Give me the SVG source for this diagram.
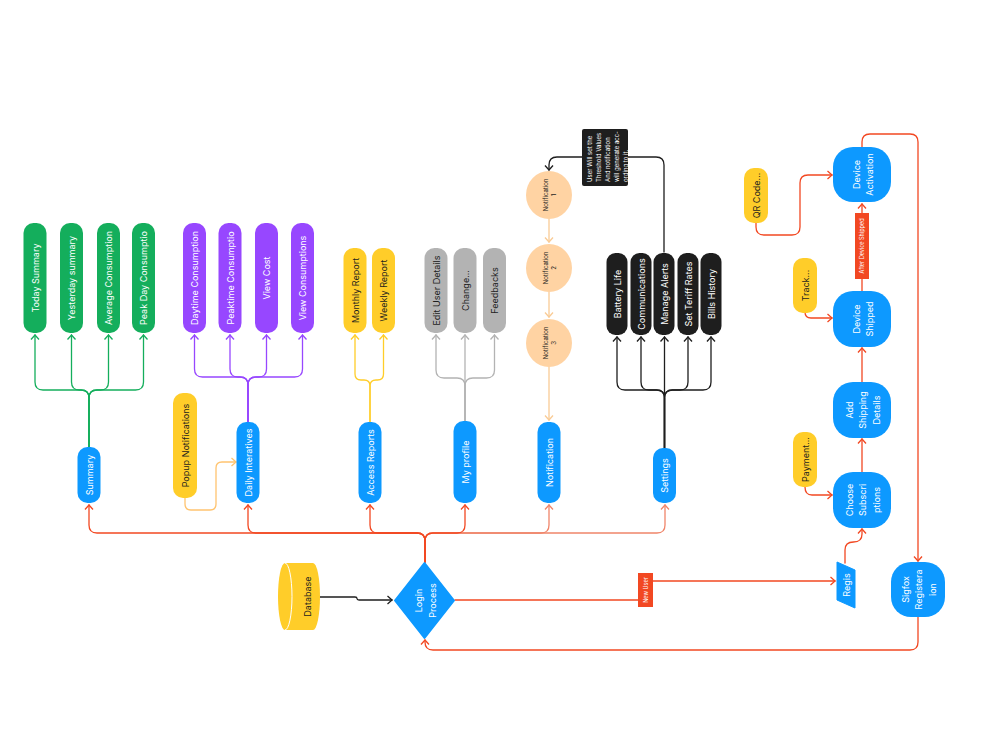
<svg xmlns="http://www.w3.org/2000/svg" width="1000" height="750" viewBox="0 0 1000 750">
<style>
.t{font-family:Inter,"Liberation Sans",sans-serif;font-size:9px;}
.w{fill:#ffffff}.k{fill:#1e1e1e}
.s{font-size:6px}.xs{font-size:5.5px}.nt{font-size:6px}
.c{fill:none;stroke-width:1.3;stroke-linecap:round;stroke-linejoin:round}
.gr{stroke:#14ae5c}.pu{stroke:#9747ff}.ye{stroke:#ffcd29}.ga{stroke:#b3b3b3}.bl{stroke:#1e1e1e}
.re{stroke:#f24822}.rl{stroke:#f0856a}.po{stroke:#f9cb95}.or{stroke:#ffc470}
.green{fill:#14ae5c}.purple{fill:#9747ff}.yellow{fill:#ffcd29}.gray{fill:#b3b3b3}.black{fill:#1e1e1e}.blue{fill:#0d99ff}.peach{fill:#ffd3a3}.red{fill:#f24822}
</style>
<defs>
<marker id="mg" viewBox="-6 -6 12 12" markerWidth="12" markerHeight="12" markerUnits="userSpaceOnUse" orient="auto" overflow="visible"><path d="M-4.5,-4 L0,0 L-4.5,4" fill="none" stroke="#14ae5c" stroke-width="1.3"/></marker>
<marker id="mp" viewBox="-6 -6 12 12" markerWidth="12" markerHeight="12" markerUnits="userSpaceOnUse" orient="auto" overflow="visible"><path d="M-4.5,-4 L0,0 L-4.5,4" fill="none" stroke="#9747ff" stroke-width="1.3"/></marker>
<marker id="my" viewBox="-6 -6 12 12" markerWidth="12" markerHeight="12" markerUnits="userSpaceOnUse" orient="auto" overflow="visible"><path d="M-4.5,-4 L0,0 L-4.5,4" fill="none" stroke="#ffcd29" stroke-width="1.3"/></marker>
<marker id="ma" viewBox="-6 -6 12 12" markerWidth="12" markerHeight="12" markerUnits="userSpaceOnUse" orient="auto" overflow="visible"><path d="M-4.5,-4 L0,0 L-4.5,4" fill="none" stroke="#b3b3b3" stroke-width="1.3"/></marker>
<marker id="mb" viewBox="-6 -6 12 12" markerWidth="12" markerHeight="12" markerUnits="userSpaceOnUse" orient="auto" overflow="visible"><path d="M-4.5,-4 L0,0 L-4.5,4" fill="none" stroke="#1e1e1e" stroke-width="1.3"/></marker>
<marker id="mr" viewBox="-6 -6 12 12" markerWidth="12" markerHeight="12" markerUnits="userSpaceOnUse" orient="auto" overflow="visible"><path d="M-4.5,-4 L0,0 L-4.5,4" fill="none" stroke="#f24822" stroke-width="1.3"/></marker>
<marker id="ml" viewBox="-6 -6 12 12" markerWidth="12" markerHeight="12" markerUnits="userSpaceOnUse" orient="auto" overflow="visible"><path d="M-4.5,-4 L0,0 L-4.5,4" fill="none" stroke="#f0856a" stroke-width="1.3"/></marker>
<marker id="mo" viewBox="-6 -6 12 12" markerWidth="12" markerHeight="12" markerUnits="userSpaceOnUse" orient="auto" overflow="visible"><path d="M-4.5,-4 L0,0 L-4.5,4" fill="none" stroke="#f9cb95" stroke-width="1.3"/></marker>
<marker id="mq" viewBox="-6 -6 12 12" markerWidth="12" markerHeight="12" markerUnits="userSpaceOnUse" orient="auto" overflow="visible"><path d="M-4.5,-4 L0,0 L-4.5,4" fill="none" stroke="#ffc470" stroke-width="1.3"/></marker>
</defs>
<rect width="1000" height="750" fill="#ffffff"/>

<g id="connectors">
<path class="c gr" marker-end="url(#mg)" d="M 89 447 V 398 Q 89 390 81 390 H 43 Q 35 390 35 382 V 335"/>
<path class="c gr" marker-end="url(#mg)" d="M 89 447 V 398 Q 89 390 81 390 H 79.5 Q 71.5 390 71.5 382 V 335"/>
<path class="c gr" marker-end="url(#mg)" d="M 89 447 V 398 Q 89 390 97 390 H 100.5 Q 108.5 390 108.5 382 V 335"/>
<path class="c gr" marker-end="url(#mg)" d="M 89 447 V 398 Q 89 390 97 390 H 135.5 Q 143.5 390 143.5 382 V 335"/>
<path class="c pu" marker-end="url(#mp)" d="M 248 422 V 385 Q 248 377 240 377 H 202.5 Q 194.5 377 194.5 369 V 335"/>
<path class="c pu" marker-end="url(#mp)" d="M 248 422 V 385 Q 248 377 240 377 H 238 Q 230 377 230 369 V 335"/>
<path class="c pu" marker-end="url(#mp)" d="M 248 422 V 385 Q 248 377 256 377 H 258.5 Q 266.5 377 266.5 369 V 335"/>
<path class="c pu" marker-end="url(#mp)" d="M 248 422 V 385 Q 248 377 256 377 H 294.5 Q 302.5 377 302.5 369 V 335"/>
<path class="c ye" marker-end="url(#my)" d="M 370 422 V 386 Q 370 380 364 380 H 361 Q 355 380 355 374 V 335"/>
<path class="c ye" marker-end="url(#my)" d="M 370 422 V 386 Q 370 380 376 380 H 377.5 Q 383.5 380 383.5 374 V 335"/>
<path class="c ga" marker-end="url(#ma)" d="M 465 421 V 386 Q 465 378 457 378 H 444 Q 436 378 436 370 V 335"/>
<path class="c ga" marker-end="url(#ma)" d="M 465 421 V 335"/>
<path class="c ga" marker-end="url(#ma)" d="M 465 421 V 386 Q 465 378 473 378 H 486.5 Q 494.5 378 494.5 370 V 335"/>
<path class="c bl" marker-end="url(#mb)" d="M 664.5 448 V 398 Q 664.5 390 656.5 390 H 625 Q 617 390 617 382 V 337"/>
<path class="c bl" marker-end="url(#mb)" d="M 664.5 448 V 398 Q 664.5 390 656.5 390 H 649 Q 641 390 641 382 V 337"/>
<path class="c bl" marker-end="url(#mb)" d="M 664.5 448 V 337"/>
<path class="c bl" marker-end="url(#mb)" d="M 664.5 448 V 398 Q 664.5 390 672.5 390 H 680 Q 688 390 688 382 V 337"/>
<path class="c bl" marker-end="url(#mb)" d="M 664.5 448 V 398 Q 664.5 390 672.5 390 H 703 Q 711 390 711 382 V 337"/>
<path class="c bl" marker-end="url(#mb)" d="M 664 252 V 165 Q 664 157 656 157 H 557 Q 549 157 549 165 V 170"/>
<path class="c po" marker-end="url(#mo)" d="M 549 219 V 242"/>
<path class="c po" marker-end="url(#mo)" d="M 549 292 V 317"/>
<path class="c po" marker-end="url(#mo)" d="M 549 367 V 420"/>
<path class="c or" marker-end="url(#mq)" d="M 185 498 V 504 Q 185 510 191 510 H 210 Q 216 510 216 504 V 468 Q 216 462 222 462 H 236"/>
<path class="c rl" marker-end="url(#ml)" d="M 425 562 V 541 Q 425 533 433 533 H 541 Q 549 533 549 525 V 505"/>
<path class="c rl" marker-end="url(#ml)" d="M 425 562 V 541 Q 425 533 433 533 H 657 Q 665 533 665 525 V 505"/>
<path class="c re" marker-end="url(#mr)" d="M 425 562 V 541 Q 425 533 433 533 H 457 Q 465 533 465 525 V 505"/>
<path class="c re" marker-end="url(#mr)" d="M 425 562 V 541 Q 425 533 417 533 H 97 Q 89 533 89 525 V 505"/>
<path class="c re" marker-end="url(#mr)" d="M 425 562 V 541 Q 425 533 417 533 H 256 Q 248 533 248 525 V 505"/>
<path class="c re" marker-end="url(#mr)" d="M 425 562 V 541 Q 425 533 417 533 H 378 Q 370 533 370 525 V 505"/>
<path class="c bl" marker-end="url(#mb)" d="M 320 597 H 355 Q 357 597 357 598.5 Q 357 600 359 600 H 392"/>
<path class="c re" marker-end="url(#mr)" d="M 455 600 H 645 V 581 H 835"/>
<path class="c re" marker-end="url(#mr)" d="M 845 563 V 550 Q 845 542 853.5 542 Q 862 542 862 534 V 529"/>
<path class="c re" marker-end="url(#mr)" d="M 862 472 V 439"/>
<path class="c re" marker-end="url(#mr)" d="M 862 382 V 348"/>
<path class="c re" marker-end="url(#mr)" d="M 862 291 V 204"/>
<path class="c re" marker-end="url(#mr)" d="M 756 223 V 227 Q 756 235 764 235 H 792 Q 800 235 800 227 V 183 Q 800 175 808 175 H 832"/>
<path class="c re" marker-end="url(#mr)" d="M 805 312 Q 805 318 811 318 H 832"/>
<path class="c re" marker-end="url(#mr)" d="M 805 487 Q 805 495 812 495 H 832"/>
<path class="c re" marker-end="url(#mr)" d="M 862 147 V 142 Q 862 134 870 134 H 910 Q 918 134 918 142 V 561"/>
<path class="c re" marker-end="url(#mr)" d="M 918 617 V 642 Q 918 650 910 650 H 433 Q 425 650 425 642 V 640"/>
</g>

<g id="today-summary"><rect class="green" x="23.5" y="223" width="23" height="110" rx="10"/><text class="t w" transform="translate(35,278) rotate(-90)" text-anchor="middle" dominant-baseline="central">Today Summary</text></g>
<g id="yesterday-summary"><rect class="green" x="60" y="223" width="23" height="110" rx="10"/><text class="t w" transform="translate(71.5,278) rotate(-90)" text-anchor="middle" dominant-baseline="central">Yesterday summary</text></g>
<g id="average-consumption"><rect class="green" x="97" y="223" width="23" height="110" rx="10"/><text class="t w" transform="translate(108.5,278) rotate(-90)" text-anchor="middle" dominant-baseline="central">Average Consumption</text></g>
<g id="peak-day"><rect class="green" x="132" y="223" width="23" height="110" rx="10"/><text class="t w" transform="translate(143.5,278) rotate(-90)" text-anchor="middle" dominant-baseline="central">Peak Day Consumptio</text></g>

<g id="daytime"><rect class="purple" x="183" y="223" width="23" height="110" rx="10"/><text class="t w" transform="translate(194.5,278) rotate(-90)" text-anchor="middle" dominant-baseline="central">Daytime Consumption</text></g>
<g id="peaktime"><rect class="purple" x="218.5" y="223" width="23" height="110" rx="10"/><text class="t w" transform="translate(230,278) rotate(-90)" text-anchor="middle" dominant-baseline="central">Peaktime Consumptio</text></g>
<g id="view-cost"><rect class="purple" x="255" y="223" width="23" height="110" rx="10"/><text class="t w" transform="translate(266.5,278) rotate(-90)" text-anchor="middle" dominant-baseline="central">View Cost</text></g>
<g id="view-consumptions"><rect class="purple" x="291" y="223" width="23" height="110" rx="10"/><text class="t w" transform="translate(302.5,278) rotate(-90)" text-anchor="middle" dominant-baseline="central">View Consumptions</text></g>

<g id="monthly-report"><rect class="yellow" x="343.5" y="248" width="23" height="85" rx="10"/><text class="t k" transform="translate(355,290.5) rotate(-90)" text-anchor="middle" dominant-baseline="central">Monthly Report</text></g>
<g id="weekly-report"><rect class="yellow" x="372" y="248" width="23" height="85" rx="10"/><text class="t k" transform="translate(383.5,290.5) rotate(-90)" text-anchor="middle" dominant-baseline="central">Weekly Report</text></g>

<g id="edit-user"><rect class="gray" x="424.5" y="248" width="23" height="85" rx="10"/><text class="t k" transform="translate(436,290.5) rotate(-90)" text-anchor="middle" dominant-baseline="central">Edit User Details</text></g>
<g id="change"><rect class="gray" x="453.5" y="248" width="23" height="85" rx="10"/><text class="t k" transform="translate(465,290.5) rotate(-90)" text-anchor="middle" dominant-baseline="central">Change...</text></g>
<g id="feedbacks"><rect class="gray" x="483" y="248" width="23" height="85" rx="10"/><text class="t k" transform="translate(494.5,290.5) rotate(-90)" text-anchor="middle" dominant-baseline="central">Feedbacks</text></g>

<g id="notification-1"><ellipse class="peach" cx="549" cy="195" rx="23" ry="24"/><text class="t k s" transform="translate(549,195) rotate(-90)" text-anchor="middle" dominant-baseline="central"><tspan x="0" y="-4">Notification</tspan><tspan x="0" y="4">1</tspan></text></g>
<g id="notification-2"><ellipse class="peach" cx="549" cy="268" rx="23" ry="24"/><text class="t k s" transform="translate(549,268) rotate(-90)" text-anchor="middle" dominant-baseline="central"><tspan x="0" y="-4">Notification</tspan><tspan x="0" y="4">2</tspan></text></g>
<g id="notification-3"><ellipse class="peach" cx="549" cy="343" rx="23" ry="24"/><text class="t k s" transform="translate(549,343) rotate(-90)" text-anchor="middle" dominant-baseline="central"><tspan x="0" y="-4">Notification</tspan><tspan x="0" y="4">3</tspan></text></g>

<g id="threshold-note"><rect class="black" x="582" y="129" width="46" height="57" rx="2"/><text class="t w nt" transform="translate(585,182) rotate(-90)" dominant-baseline="central"><tspan x="0" y="4">User Will set the</tspan><tspan x="0" y="13">Threshold Values</tspan><tspan x="0" y="22">And notification</tspan><tspan x="0" y="31">will generate acc-</tspan><tspan x="0" y="40">ording to it.</tspan></text></g>

<g id="battery-life"><rect class="black" x="606.5" y="253" width="21" height="82" rx="9"/><text class="t w" transform="translate(617,294) rotate(-90)" text-anchor="middle" dominant-baseline="central">Battery Life</text></g>
<g id="communications"><rect class="black" x="630.5" y="253" width="21" height="82" rx="9"/><text class="t w" transform="translate(641,294) rotate(-90)" text-anchor="middle" dominant-baseline="central">Communications</text></g>
<g id="manage-alerts"><rect class="black" x="653.5" y="253" width="21" height="82" rx="9"/><text class="t w" transform="translate(664,294) rotate(-90)" text-anchor="middle" dominant-baseline="central">Manage Alerts</text></g>
<g id="set-teriff"><rect class="black" x="677.5" y="253" width="21" height="82" rx="9"/><text class="t w" transform="translate(688,294) rotate(-90)" text-anchor="middle" dominant-baseline="central">Set Teriff Rates</text></g>
<g id="bills-history"><rect class="black" x="700.5" y="253" width="21" height="82" rx="9"/><text class="t w" transform="translate(711,294) rotate(-90)" text-anchor="middle" dominant-baseline="central">Bills History</text></g>

<g id="summary"><rect class="blue" x="77.5" y="447" width="23" height="56" rx="10"/><text class="t w" transform="translate(89,475) rotate(-90)" text-anchor="middle" dominant-baseline="central">Summary</text></g>
<g id="popup-notifications"><rect class="yellow" x="173" y="393" width="24" height="105" rx="10"/><text class="t k" transform="translate(185,445.5) rotate(-90)" text-anchor="middle" dominant-baseline="central">Popup Notifications</text></g>
<g id="daily-interatives"><rect class="blue" x="236.5" y="422" width="23" height="81" rx="10"/><text class="t w" transform="translate(248,462.5) rotate(-90)" text-anchor="middle" dominant-baseline="central">Daily Interatives</text></g>
<g id="access-reports"><rect class="blue" x="358.5" y="422" width="23" height="81" rx="10"/><text class="t w" transform="translate(370,462.5) rotate(-90)" text-anchor="middle" dominant-baseline="central">Access Reports</text></g>
<g id="my-profile"><rect class="blue" x="453.5" y="421" width="23" height="82" rx="10"/><text class="t w" transform="translate(465,462) rotate(-90)" text-anchor="middle" dominant-baseline="central">My profile</text></g>
<g id="notification"><rect class="blue" x="537.5" y="422" width="23" height="81" rx="10"/><text class="t w" transform="translate(549,462.5) rotate(-90)" text-anchor="middle" dominant-baseline="central">Notification</text></g>
<g id="settings"><rect class="blue" x="653" y="448" width="23" height="55" rx="10"/><text class="t w" transform="translate(664.5,475.5) rotate(-90)" text-anchor="middle" dominant-baseline="central">Settings</text></g>

<g id="database"><path class="yellow" d="M 285 563 H 313 A 7 33.5 0 0 1 313 630 H 285 A 7 33.5 0 0 1 285 563 Z"/><path d="M 285 563 A 7 33.5 0 0 1 285 630" fill="none" stroke="#ffffff" stroke-width="1"/><text class="t k" transform="translate(307,596.5) rotate(-90)" text-anchor="middle" dominant-baseline="central">Database</text></g>
<g id="login-process"><polygon class="blue" points="424.5,563 454,600.5 424.5,638 395,600.5" stroke="#0d99ff" stroke-width="2" stroke-linejoin="round"/><text class="t w" transform="translate(424.5,600.5) rotate(-90)" text-anchor="middle" dominant-baseline="central"><tspan x="0" y="-7">Login</tspan><tspan x="0" y="7">Process</tspan></text></g>
<g id="new-user-label"><rect class="red" x="638" y="573" width="15" height="34"/><text class="t w xs" transform="translate(645.5,590) rotate(-90)" text-anchor="middle" dominant-baseline="central">New User</text></g>
<g id="regis"><polygon class="blue" points="837,562 855,570 855,608 837,600" stroke="#0d99ff" stroke-width="1" stroke-linejoin="round"/><text class="t w" transform="translate(846,585) rotate(-90)" text-anchor="middle" dominant-baseline="central">Regis</text></g>
<g id="sigfox"><rect class="blue" x="891" y="562" width="54" height="55" rx="20"/><text class="t w" transform="translate(918,589.5) rotate(-90)" text-anchor="middle" dominant-baseline="central"><tspan x="0" y="-13.5">Sigfox</tspan><tspan x="0" y="0">Registera</tspan><tspan x="0" y="13.5">ion</tspan></text></g>

<g id="device-activation"><rect class="blue" x="833" y="147" width="58" height="55" rx="20"/><text class="t w" transform="translate(862,174.5) rotate(-90)" text-anchor="middle" dominant-baseline="central"><tspan x="0" y="-6.5">Device</tspan><tspan x="0" y="6.5">Activation</tspan></text></g>
<g id="after-shipped-label"><rect class="red" x="855" y="213" width="14" height="66"/><text class="t w xs" transform="translate(862,246) rotate(-90)" text-anchor="middle" dominant-baseline="central">After Device Shipped</text></g>
<g id="qr-code"><rect class="yellow" x="744" y="168" width="24" height="55" rx="10"/><text class="t k" transform="translate(756,195.5) rotate(-90)" text-anchor="middle" dominant-baseline="central">QR Code...</text></g>
<g id="track"><rect class="yellow" x="793" y="258" width="24" height="55" rx="10"/><text class="t k" transform="translate(805,285.5) rotate(-90)" text-anchor="middle" dominant-baseline="central">Track...</text></g>
<g id="device-shipped"><rect class="blue" x="833" y="291" width="58" height="56" rx="20"/><text class="t w" transform="translate(862,319) rotate(-90)" text-anchor="middle" dominant-baseline="central"><tspan x="0" y="-6.5">Device</tspan><tspan x="0" y="6.5">Shipped</tspan></text></g>
<g id="add-shipping"><rect class="blue" x="833" y="382" width="58" height="56" rx="20"/><text class="t w" transform="translate(862,410) rotate(-90)" text-anchor="middle" dominant-baseline="central"><tspan x="0" y="-13.5">Add</tspan><tspan x="0" y="0">Shipping</tspan><tspan x="0" y="13.5">Details</tspan></text></g>
<g id="payment"><rect class="yellow" x="793" y="432" width="24" height="55" rx="10"/><text class="t k" transform="translate(805,459.5) rotate(-90)" text-anchor="middle" dominant-baseline="central">Payment...</text></g>
<g id="choose-subscriptions"><rect class="blue" x="833" y="472" width="58" height="56" rx="20"/><text class="t w" transform="translate(862,500) rotate(-90)" text-anchor="middle" dominant-baseline="central"><tspan x="0" y="-13.5">Choose</tspan><tspan x="0" y="0">Subscri</tspan><tspan x="0" y="13.5">ptions</tspan></text></g>
</svg>
